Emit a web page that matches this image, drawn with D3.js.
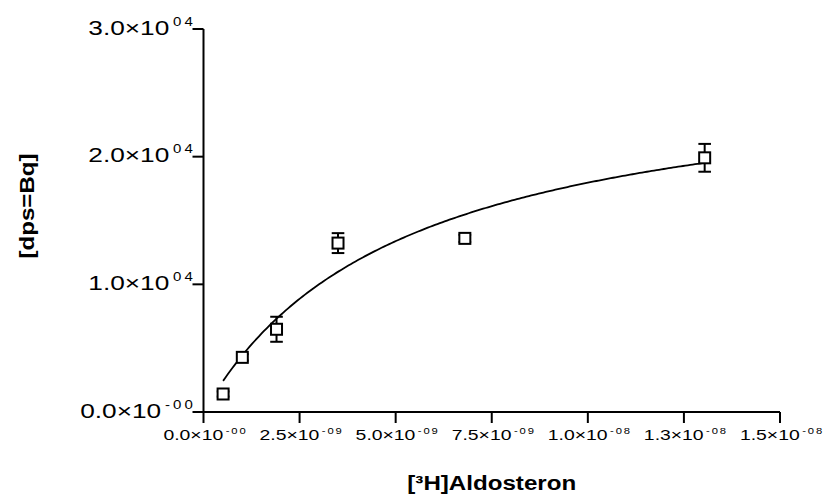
<!DOCTYPE html>
<html>
<head>
<meta charset="utf-8">
<script src="https://cdn.jsdelivr.net/npm/d3@7"></script>
<style>
  body { margin: 0; background: #fff; }
  svg { display: block; font-family: "Liberation Sans", Arial, sans-serif; }
</style>
</head>
<body>
<div id="chart"></div>
<script>
// saturation binding chart, open squares + one-site fit
const width = 824,
    height = 496,
    margin = ({ top: 29, right: 44, bottom: 84, left: 203.5 });

// data
const conc = [0.51e-9, 1.01e-9, 1.90e-9, 3.50e-9, 6.80e-9, 13.04e-9];
const dps = [1410, 4280, 6480, 13230, 13600, 19910];
const sem = [200, 250, 980, 780, 280, 1090];
// fitted one-site binding parameters (Bmax, Kd)
const bmax = 27300,
    kd = 5.2e-9;

const xTicks = [0, 2.5e-9, 5e-9, 7.5e-9, 1e-8, 1.25e-8, 1.5e-8];
const xTickMain = ["0.0×10", "2.5×10", "5.0×10", "7.5×10", "1.0×10", "1.3×10", "1.5×10"];
const xTickExp = ["-00", "-09", "-09", "-09", "-08", "-08", "-08"];
const yTicks = [0, 10000, 20000, 30000];
const yTickMain = ["0.0×10", "1.0×10", "2.0×10", "3.0×10"];
const yTickExp = ["-00", "04", "04", "04"];

const svg = d3.select("#chart")
    .append("svg")
    .attr("width", width)
    .attr("height", height);

let x = d3.scaleLinear()
    .domain([0, 1.5e-8])
    .range([margin.left, width - margin.right]);

let y = d3.scaleLinear()
    .domain([0, 30000])
    .range([height - margin.bottom, margin.top]);

// axes (labels drawn separately, they carry superscripts)
svg.append("g")
    .attr("transform", `translate(${margin.left},0)`)
    .call(d3.axisLeft(y).tickValues(yTicks).tickFormat("").tickSize(11).tickSizeOuter(0).offset(0));

svg.append("g")
    .attr("transform", `translate(0,${height - margin.bottom})`)
    .call(d3.axisBottom(x).tickValues(xTicks).tickFormat("").tickSize(11).tickSizeOuter(0).offset(0));

svg.selectAll(".domain, .tick line")
    .attr("stroke", "#000")
    .attr("stroke-width", 2);

// y tick labels
yTicks.forEach((t, i) => {
    let txt = svg.append("text")
        .attr("text-anchor", "end")
        .attr("transform", `translate(196,${y(t) + 5.5}) scale(1.25,1)`)
        .attr("font-size", 21)
        .attr("fill", "#000");
    txt.append("tspan").text(yTickMain[i]);
    txt.append("tspan")
        .attr("dx", 3)
        .attr("dy", -8.8)
        .attr("font-size", 12)
        .attr("letter-spacing", 2.5)
        .text(yTickExp[i]);
});

// x tick labels
xTicks.forEach((t, i) => {
    let txt = svg.append("text")
        .attr("text-anchor", "middle")
        .attr("transform", `translate(${x(t) + 2},439.5) scale(1.25,1)`)
        .attr("font-size", 15.5)
        .attr("fill", "#000");
    txt.append("tspan").text(xTickMain[i]);
    txt.append("tspan")
        .attr("dx", 2)
        .attr("dy", -6)
        .attr("font-size", 9)
        .attr("letter-spacing", 1.5)
        .text(xTickExp[i]);
});

// axis titles
svg.append("text")
    .attr("text-anchor", "middle")
    .attr("transform", `translate(${(x.range()[0] + x.range()[1]) / 2},490) scale(1.15,1)`)
    .attr("font-size", 21)
    .attr("font-weight", "bold")
    .text("[³H]Aldosteron");

svg.append("text")
    .attr("text-anchor", "middle")
    .attr("transform", "translate(33.5,206) rotate(-90) scale(1.15,1)")
    .attr("font-size", 21)
    .attr("font-weight", "bold")
    .text("[dps=Bq]");

// fitted curve
let curveX = d3.range(0, 201).map(i => conc[0] + (conc[conc.length - 1] - conc[0]) * i / 200);
let line = d3.line()
    .x(d => x(d))
    .y(d => y(bmax * d / (kd + d)));

svg.append("path")
    .datum(curveX)
    .attr("d", line)
    .attr("fill", "none")
    .attr("stroke", "#000")
    .attr("stroke-width", 1.8);

// error bars
let pts = conc.map((c, i) => ({ c: c, v: dps[i], e: sem[i] }));
let capW = 6.3;

let eb = svg.append("g")
    .attr("stroke", "#000")
    .attr("stroke-width", 2)
    .selectAll("g")
    .data(pts)
    .join("g");

eb.append("line")
    .attr("x1", d => x(d.c)).attr("x2", d => x(d.c))
    .attr("y1", d => y(d.v - d.e)).attr("y2", d => y(d.v + d.e));
eb.append("line")
    .attr("x1", d => x(d.c) - capW).attr("x2", d => x(d.c) + capW)
    .attr("y1", d => y(d.v + d.e)).attr("y2", d => y(d.v + d.e));
eb.append("line")
    .attr("x1", d => x(d.c) - capW).attr("x2", d => x(d.c) + capW)
    .attr("y1", d => y(d.v - d.e)).attr("y2", d => y(d.v - d.e));

// open square markers
let sq = 11;
svg.append("g")
    .selectAll("rect")
    .data(pts)
    .join("rect")
    .attr("x", d => x(d.c) - sq / 2)
    .attr("y", d => y(d.v) - sq / 2)
    .attr("width", sq)
    .attr("height", sq)
    .attr("fill", "#fff")
    .attr("stroke", "#000")
    .attr("stroke-width", 2);
</script>
</body>
</html>
